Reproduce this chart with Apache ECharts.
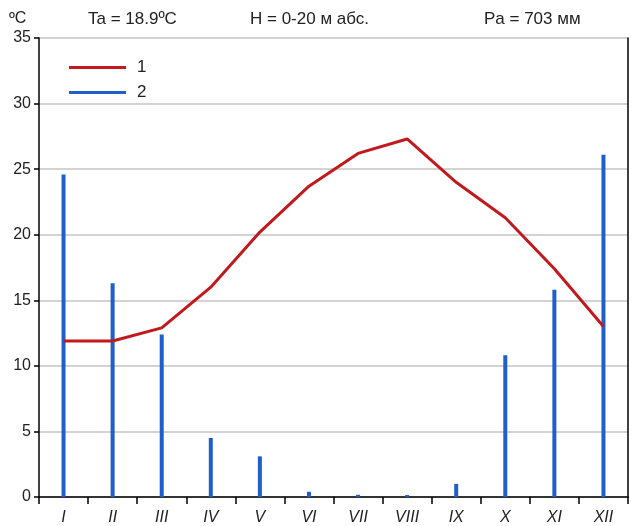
<!DOCTYPE html>
<html>
<head>
<meta charset="utf-8">
<script src="https://cdn.jsdelivr.net/npm/echarts@6/dist/echarts.min.js"></script>
<style>
html,body{margin:0;padding:0;background:#fff;}
#chart{width:631px;height:526px;}
</style>
</head>
<body>
<div id="chart"></div>
<script>
const months = ['I','II','III','IV','V','VI','VII','VIII','IX','X','XI','XII'];
const temperature = [11.9, 11.9, 12.9, 16.0, 20.2, 23.7, 26.2, 27.3, 24.0, 21.3, 17.4, 13.0];
const precipitation = [24.6, 16.3, 12.4, 4.5, 3.1, 0.4, 0.17, 0.15, 1.0, 10.8, 15.8, 26.1];
const seriesNames = ['1', '2'];
const headerTexts = ['ºC', 'Ta = 18.9ºC', 'H = 0-20 м абс.', 'Pa = 703 мм'];

const FONT = '"Liberation Sans", Arial, sans-serif';
const chart = echarts.init(document.getElementById('chart'));
chart.setOption({
  backgroundColor: '#ffffff',
  animation: false,
  textStyle: { fontFamily: FONT },
  graphic: [
    { type: 'text', left: 9, top: 11, style: { text: headerTexts[0], font: '16px ' + FONT, fill: '#222' } },
    { type: 'text', left: 88, top: 11, style: { text: headerTexts[1], font: '17px ' + FONT, fill: '#222' } },
    { type: 'text', left: 250, top: 11, style: { text: headerTexts[2], font: '17px ' + FONT, fill: '#222' } },
    { type: 'text', left: 484, top: 11, style: { text: headerTexts[3], font: '17px ' + FONT, fill: '#222' } }
  ],
  legend: {
    orient: 'vertical',
    left: 64,
    top: 54,
    icon: 'rect',
    itemWidth: 57,
    itemHeight: 3,
    itemGap: 8,
    textStyle: { fontSize: 17, color: '#222', lineHeight: 16, padding: [0, 0, 0, 6] },
    data: seriesNames
  },
  grid: { left: 39, right: 3, top: 38, bottom: 27, containLabel: false },
  xAxis: {
    type: 'category',
    data: months,
    boundaryGap: true,
    axisLine: { lineStyle: { color: '#000', width: 1.5 } },
    axisTick: { show: true, length: 7, lineStyle: { color: '#000', width: 1.5 } },
    axisLabel: { fontSize: 16, fontStyle: 'italic', color: '#222', margin: 13 },
    splitLine: { show: false }
  },
  yAxis: [
    {
      type: 'value', min: 0, max: 35, interval: 5,
      axisLine: { show: true, lineStyle: { color: '#000', width: 1.5 } },
      axisTick: { show: true, length: 5, lineStyle: { color: '#000', width: 1.5 } },
      axisLabel: { fontSize: 16, color: '#222', margin: 8 },
      splitLine: { show: true, lineStyle: { color: '#c4c4c4', width: 1.5 } }
    },
    {
      type: 'value', min: 0, max: 35, interval: 5, position: 'right',
      axisLine: { show: true, lineStyle: { color: '#000', width: 1.5 } },
      axisTick: { show: false },
      axisLabel: { show: false },
      splitLine: { show: false }
    }
  ],
  series: [
    {
      name: seriesNames[0],
      type: 'line',
      data: temperature,
      symbol: 'none',
      z: 3,
      lineStyle: { color: '#c0191e', width: 3 },
      itemStyle: { color: '#c0191e' }
    },
    {
      name: seriesNames[1],
      type: 'bar',
      data: precipitation,
      barWidth: 4,
      z: 2,
      itemStyle: { color: '#1f5fcb' }
    }
  ]
});
</script>
</body>
</html>
